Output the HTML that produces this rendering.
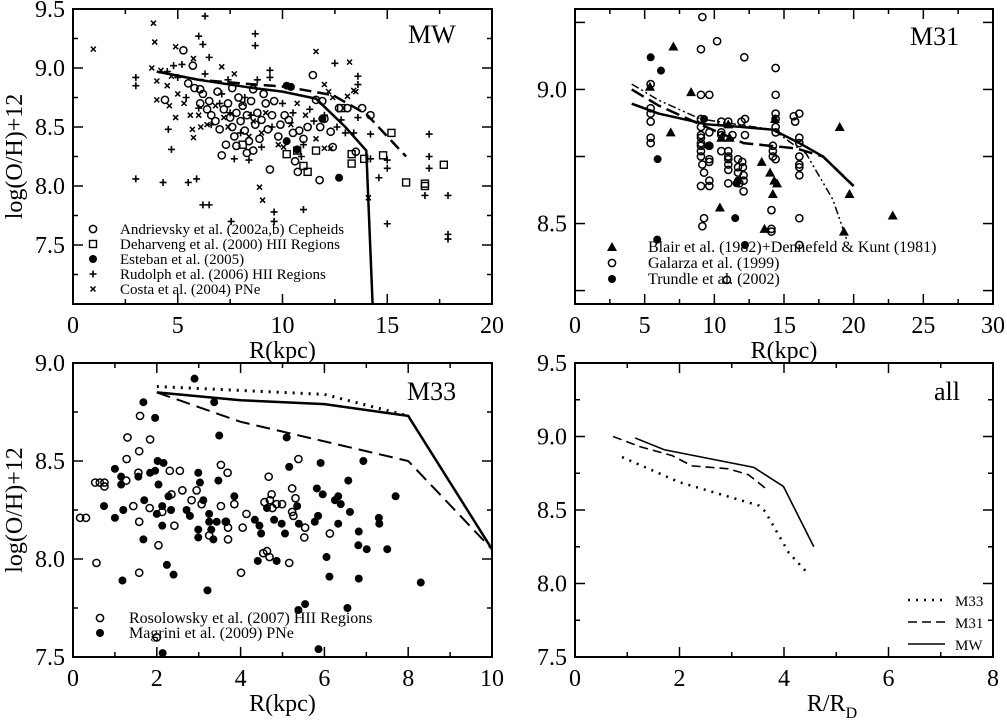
<!DOCTYPE html>
<html><head><meta charset="utf-8"><style>
html,body{margin:0;padding:0;background:#fff;}
svg{display:block;font-family:"Liberation Serif",serif;}
svg text{font-family:"Liberation Serif",serif;}
</style></head><body>
<svg id="fig" width="1007" height="722" viewBox="0 0 1007 722" font-family="Liberation Serif, serif"></svg>
<script>
// ---- MW data ----
const mwCircX=[5.27,5.72,11.45,4.39,6.07,6.07,7.1,9.4,10.73,10.6,11.77,11.8,12.4,12.3,13.1,12.7,14.2,13.8,13.5,12.0,11.6,11.9,6.2,6.5,6.6,6.8,7.0,7.2,7.4,7.5,7.6,7.7,7.8,7.9,8.0,8.1,8.2,8.3,8.4,8.5,8.6,8.7,8.8,8.9,9.0,9.2,9.3,9.5,9.6,9.8,9.9,10.1,10.3,10.5,10.8,11.0,11.2,7.3,7.8,8.3,6.4,5.8,5.5,6.9,7.6,8.6,9.1];
const mwCircY=[9.15,9.02,8.94,8.73,8.82,8.70,8.26,8.14,8.12,8.21,8.05,8.5,8.33,8.46,8.66,8.66,8.6,8.66,8.29,8.57,8.73,8.72,8.78,8.72,8.6,8.55,8.48,8.65,8.7,8.58,8.5,8.42,8.62,8.75,8.55,8.68,8.47,8.6,8.38,8.72,8.3,8.52,8.62,8.4,8.56,8.7,8.48,8.6,8.72,8.42,8.52,8.6,8.56,8.45,8.47,8.4,8.5,8.35,8.34,8.28,8.65,8.83,8.87,8.8,8.83,8.82,8.78];
const mwSqX=[12.8,15.2,13.3,13.3,13.9,14.8,15.9,16.8,16.8,17.7,11.0,11.2,10.2,11.6,8.1,10.7];
const mwSqY=[8.66,8.45,8.27,8.19,8.23,8.26,8.03,8.02,8.0,8.18,8.17,8.12,8.27,8.3,8.35,8.3];
const mwDotX=[10.2,10.2,10.7,12.7,11.9,10.4];
const mwDotY=[8.85,8.38,8.31,8.07,8.57,8.84];
const mwPlusX=[6.3,6.0,8.7,8.7,6.2,6.5,3.0,3.0,12.5,13.6,13.6,13.6,14.2,14.2,15.0,15.0,14.6,17.0,17.0,17.0,16.8,17.9,17.9,17.9,15.0,3.0,4.3,5.5,5.9,6.2,6.5,7.55,9.6,9.6,11.0,4.55,4.7,9.4,7.7,8.4,5.0,5.4,6.0,6.6,7.1,7.5,8.0,8.5,9.0,9.5,10.0,10.5,11.0,11.5,12.0,12.6,13.0,13.4,4.5,4.8,5.2,7.4,8.8,9.4,10.9,11.3,12.8,6.3,7.0,8.2];
const mwPlusY=[9.44,9.27,9.29,9.19,9.2,9.09,8.92,8.85,9.04,8.93,8.86,8.58,8.44,8.23,8.22,8.15,8.07,8.44,8.25,8.15,7.92,7.92,7.59,7.55,7.68,8.06,8.03,8.03,8.06,7.84,7.84,7.7,7.78,7.7,7.8,8.48,8.31,8.98,8.23,8.22,8.92,8.75,8.66,8.52,8.78,8.62,8.45,8.6,8.33,8.5,8.7,8.62,8.35,8.55,8.6,8.5,8.45,8.45,8.97,9.02,9.03,8.9,8.9,8.92,8.25,8.65,8.56,8.95,8.7,8.75];
const mwCrossX=[0.97,3.84,3.9,4.9,5.75,7.1,11.6,13.2,3.76,4.0,4.0,4.9,5.75,6.1,8.9,9.05,12.0,13.4,12.3,12.0,10.05,14.1,4.2,4.5,4.7,5.0,5.3,5.6,6.0,6.4,6.8,7.2,7.7,8.1,8.6,9.2,9.8,10.4,10.7,11.1,11.6,12.2,12.4,13.1,13.5,4.6,5.7,9.0,8.4,7.4];
const mwCrossY=[9.16,9.38,9.22,9.18,9.08,9.01,9.14,9.05,9.0,8.89,8.73,8.58,8.41,8.5,7.99,7.88,8.86,8.81,8.32,8.32,8.33,7.9,8.98,8.85,8.93,8.78,8.7,8.6,8.6,8.52,8.68,8.58,8.95,8.7,8.55,8.62,8.35,8.52,8.7,8.6,8.4,8.8,8.75,8.76,8.8,8.68,8.48,8.45,8.42,8.5];
const mwSolidX=[4.0,6.0,8.6,10.0,11.6,13.0,14.0,14.3];
const mwSolidY=[8.97,8.9,8.83,8.8,8.74,8.5,8.3,7.0];
const mwDashX=[4.0,6.0,8.0,10.2,12.4,14.0,15.9];
const mwDashY=[8.97,8.9,8.87,8.84,8.77,8.61,8.25];
// ---- M31 data ----
const m31TriX=[5.38,7.06,8.33,6.87,11.0,10.5,11.1,10.4,13.4,14.0,14.3,14.5,14.2,13.6,14.35,19.0,19.7,19.3,22.8];
const m31TriY=[9.01,9.16,8.99,8.84,8.87,8.82,8.82,8.56,8.73,8.69,8.66,8.65,8.61,8.48,8.89,8.86,8.61,8.47,8.53];
const m31DotX=[5.43,6.17,5.93,5.9,9.26,9.57,11.5,11.7,11.6,12.2];
const m31DotY=[9.12,9.07,8.74,8.44,8.89,8.79,8.52,8.66,8.65,8.42];
const m31CircX=[9.14,10.2,9.04,12.15,14.4,14.4,9.04,9.64,5.43,5.43,5.43,5.43,5.43,5.43,14.4,14.4,14.4,14.4,14.2,14.2,14.2,14.4,14.1,14.1,14.1,15.7,16.1,15.8,16.1,16.1,16.1,16.1,16.1,16.1,16.1,16.1,9.04,9.04,9.04,9.04,9.04,9.04,9.04,9.04,9.14,9.26,9.04,9.26,9.14,9.64,9.64,9.64,9.64,9.64,9.64,10.5,10.5,10.5,10.5,11.0,11.0,11.0,11.0,11.0,11.0,11.0,11.7,11.7,11.7,11.8,12.0,12.05,12.1,12.1,12.1,12.2,12.2,11.95,11.3,10.9];
const m31CircY=[9.27,9.18,9.15,9.12,9.08,8.98,8.98,8.98,9.02,8.93,8.91,8.88,8.82,8.8,8.91,8.89,8.86,8.84,8.79,8.77,8.75,8.74,8.55,8.48,8.47,8.9,8.91,8.88,8.82,8.8,8.75,8.72,8.71,8.68,8.52,8.42,8.89,8.86,8.83,8.82,8.8,8.79,8.77,8.75,8.72,8.69,8.64,8.52,8.49,8.84,8.79,8.74,8.73,8.66,8.64,8.88,8.84,8.83,8.77,8.88,8.77,8.75,8.74,8.72,8.7,8.65,8.74,8.71,8.69,8.65,8.73,8.71,8.68,8.66,8.62,8.83,8.89,8.88,8.83,8.29];
const m31SolidX=[4.07,6.0,9.45,12.0,14.2,16.1,17.8,19.98];
const m31SolidY=[8.947,8.91,8.87,8.86,8.85,8.8,8.75,8.64];
const m31DashX=[4.07,6.0,8.97,12.1,15.9,17.8,20.0];
const m31DashY=[9.0,8.94,8.87,8.8,8.78,8.75,8.64];
const m31DDX=[4.07,6.0,9.0,14.2,16.6,18.5,19.5];
const m31DDY=[9.02,8.96,8.89,8.85,8.76,8.59,8.44];
// ---- M33 data ----
const m33DotX=[2.9,1.68,3.37,1.96,3.49,5.1,2.02,2.16,1.0,1.84,1.96,2.99,1.15,1.15,1.56,2.04,3.03,3.47,5.16,5.91,6.93,6.57,0.74,1.0,1.2,1.7,2.0,2.13,2.28,2.34,2.13,2.71,2.79,2.99,2.99,3.11,3.25,3.25,3.3,3.35,3.43,3.64,3.85,4.34,4.45,4.49,4.63,4.8,4.98,5.06,5.35,5.39,5.77,5.85,5.82,5.96,6.25,6.33,6.39,6.33,6.61,6.82,6.81,7.01,7.3,7.31,7.5,7.7,8.3,6.05,6.12,6.82,4.41,4.86,2.24,2.4,1.18,3.21,5.38,5.54,6.55,5.86,2.14,1.68];
const m33DotY=[8.92,8.8,8.8,8.72,8.63,8.62,8.5,8.49,8.46,8.44,8.45,8.44,8.42,8.38,8.42,8.38,8.39,8.4,8.47,8.49,8.5,8.4,8.27,8.21,8.25,8.3,8.23,8.27,8.32,8.25,8.17,8.25,8.22,8.15,8.11,8.3,8.23,8.19,8.15,8.1,8.19,8.19,8.32,8.2,8.17,8.13,8.26,8.2,8.18,8.13,8.27,8.18,8.19,8.22,8.36,8.33,8.3,8.32,8.28,8.18,8.24,8.14,8.07,8.05,8.21,8.18,8.05,8.32,7.88,8.01,7.91,7.9,7.99,7.99,7.97,7.92,7.89,7.84,7.74,7.77,7.75,7.54,7.52,8.1];
const m33CircX=[1.6,1.3,1.84,1.58,1.28,1.27,1.56,0.53,0.64,0.75,0.75,0.17,0.31,0.56,1.58,1.44,1.83,2.13,2.04,1.58,2.31,2.55,2.35,2.61,2.42,2.83,2.95,3.07,3.25,3.53,3.53,3.69,3.65,3.7,3.7,3.85,4.14,4.05,4.01,4.57,4.67,4.7,4.74,4.76,4.86,4.99,5.23,5.23,5.31,5.38,5.26,5.16,5.54,5.52,6.13,4.54,4.63,4.69,2.0];
const m33CircY=[8.73,8.62,8.61,8.55,8.51,8.4,8.44,8.39,8.39,8.39,8.37,8.21,8.21,7.98,8.19,8.27,8.26,8.24,8.07,7.93,8.45,8.45,8.33,8.35,8.17,8.3,8.35,8.28,8.12,8.48,8.27,8.44,8.19,8.16,8.1,8.28,8.23,8.16,7.93,8.29,8.42,8.3,8.33,8.26,8.28,8.28,8.36,8.24,8.31,8.51,8.22,7.98,8.16,8.11,8.13,8.03,8.04,8.01,7.6];
const m33SolidX=[2,4,6,8,10];
const m33SolidY=[8.85,8.81,8.79,8.73,8.05];
const m33DotLX=[2,4,6,8];
const m33DotLY=[8.88,8.86,8.84,8.73];
const m33DashX=[2,4,6,8,10];
const m33DashY=[8.85,8.7,8.6,8.5,8.05];
// ---- all ----
const allMWX=[1.15,1.71,3.42,3.99,4.57];
const allMWY=[8.99,8.91,8.79,8.66,8.25];
const allM31X=[0.73,1.25,1.86,2.24,2.94,3.32,3.71];
const allM31Y=[9.0,8.93,8.87,8.8,8.78,8.74,8.63];
const allM33X=[0.9,1.99,3.52,3.64,4.09,4.48];
const allM33Y=[8.86,8.69,8.53,8.49,8.21,8.06];

const NS='http://www.w3.org/2000/svg';
const FONT='Liberation Serif, serif';
const svg=document.getElementById('fig');
function mk(tag,attrs,parent){const e=document.createElementNS(NS,tag);for(const k in attrs)e.setAttribute(k,attrs[k]);(parent||svg).appendChild(e);return e;}
function txt(s,x,y,size,anchor,parent,name){const t=mk('text',{x:x,y:y,'font-size':size,'font-family':FONT,'text-anchor':anchor||'start',fill:'#000'},parent);t.textContent=s;


return t;}

function panel(o){
  const g=mk('g',{});
  
  
  const sx=v=>o.L+(v-o.x0)/(o.x1-o.x0)*(o.R-o.L);
  const sy=v=>o.B-(v-o.y0)/(o.y1-o.y0)*(o.B-o.T);
  const box=mk('rect',{x:o.L,y:o.T,width:o.R-o.L,height:o.B-o.T,fill:'none',stroke:'#000','stroke-width':2},g);
  
  
  const ax=mk('g',{stroke:'#000','stroke-width':1.5},g);
  
  
  const nx=Math.round((o.x1-o.x0)/o.xm);
  for(let i=0;i<=nx;i++){const v=o.x0+i*o.xm;const x=sx(v);const maj=Math.abs(((v-o.x0)/o.xM)-Math.round((v-o.x0)/o.xM))<1e-6;const l=maj?10:5;
    mk('line',{x1:x,y1:o.B,x2:x,y2:o.B-l},ax);mk('line',{x1:x,y1:o.T,x2:x,y2:o.T+l},ax);
    if(maj)txt(String(Math.round(v*10)/10),x,o.B+29,24,'middle',g,'x-tick-label');}
  const ys=o.yStart!==undefined?o.yStart:o.y0;
  const ny=Math.floor((o.y1-ys)/o.ym+1e-6);
  for(let i=0;i<=ny;i++){const v=ys+i*o.ym;const y=sy(v);const maj=o.yMaj(v);const l=maj?10:5;
    mk('line',{x1:o.L,y1:y,x2:o.L+l,y2:y},ax);mk('line',{x1:o.R,y1:y,x2:o.R-l,y2:y},ax);
    if(o.yLab(v))txt(v.toFixed(1),o.L-8,y+8,24,'end',g,'y-tick-label');}
  if(o.xt)txt(o.xt,(o.L+o.R)/2,o.B+54,24,'middle',g,'x-axis-title');
  if(o.yt){const t=txt(o.yt,0,0,24,'middle',g,'y-axis-title');t.setAttribute('transform','translate(22,'+((o.T+o.B)/2)+') rotate(-90)');}
  txt(o.label,o.lx,o.ly,26,'start',g,'panel-label');
  return {g,sx,sy};
}
function clip(p,o){const id='c'+o.name;const cp=mk('clipPath',{id:id},p.g);mk('rect',{x:o.L,y:o.T,width:o.R-o.L,height:o.B-o.T},cp);const g=mk('g',{'clip-path':'url(#'+id+')'},p.g);return g;}
function marks(p,g,X,Y,kind,name){
  for(let i=0;i<X.length;i++){const x=p.sx(X[i]),y=p.sy(Y[i]);let e;
    if(kind==='circ')e=mk('circle',{cx:x,cy:y,r:3.6,fill:'none',stroke:'#000','stroke-width':1.5},g);
    else if(kind==='dot')e=mk('circle',{cx:x,cy:y,r:4,fill:'#000'},g);
    else if(kind==='sq')e=mk('rect',{x:x-3.5,y:y-3.5,width:7,height:7,fill:'none',stroke:'#000','stroke-width':1.4},g);
    else if(kind==='tri')e=mk('path',{d:`M${x},${y-5}L${x+5},${y+4}L${x-5},${y+4}Z`,fill:'#000'},g);
    else if(kind==='plus')e=mk('path',{d:`M${x-3.5},${y}H${x+3.5}M${x},${y-3.5}V${y+3.5}`,stroke:'#000','stroke-width':1.6},g);
    else if(kind==='cross')e=mk('path',{d:`M${x-2.5},${y-2.5}L${x+2.5},${y+2.5}M${x-2.5},${y+2.5}L${x+2.5},${y-2.5}`,stroke:'#000','stroke-width':1.5},g);
    
    
  }
}
function line(p,g,X,Y,dash,w,name){const d=X.map((v,i)=>(i?'L':'M')+p.sx(v)+','+p.sy(Y[i])).join('');
  const e=mk('path',{d:d,fill:'none',stroke:'#000','stroke-width':w||2.5,'stroke-dasharray':dash||'none'},g);
  
  }
function legMark(g,kind,x,y,name){const p={sx:v=>v,sy:v=>v};marks(p,g,[x],[y],kind,name);}
const half=v=>Math.abs(v*2-Math.round(v*2))<1e-6;

// Panel MW
const o1={name:'panel-mw',L:73,R:492,T:9,B:304,x0:0,x1:20,xm:2.5,xM:5,y0:7.0,y1:9.5,ym:0.25,yMaj:half,yLab:v=>v>7.2&&half(v),xt:'R(kpc)',yt:'log(O/H)+12',label:'MW',lx:408,ly:43};
const p1=panel(o1);const g1=clip(p1,o1);
marks(p1,g1,mwCrossX,mwCrossY,'cross','costa-pne-point');
marks(p1,g1,mwPlusX,mwPlusY,'plus','rudolph-hii-point');
marks(p1,g1,mwCircX,mwCircY,'circ','andrievsky-cepheid-point');
marks(p1,g1,mwSqX,mwSqY,'sq','deharveng-hii-point');
marks(p1,g1,mwDotX,mwDotY,'dot','esteban-point');
line(p1,g1,mwSolidX,mwSolidY,null,2.5,'mw-model-solid');
line(p1,g1,mwDashX,mwDashY,'12,6',2.5,'mw-model-dashed');
const leg1=[['circ','Andrievsky et al. (2002a,b) Cepheids'],['sq','Deharveng et al. (2000) HII Regions'],['dot','Esteban et al. (2005)'],['plus','Rudolph et al. (2006) HII Regions'],['cross','Costa et al. (2004) PNe']];
leg1.forEach((l,i)=>{const y=229+i*15;legMark(p1.g,l[0],93,y,'legend-marker');txt(l[1],120,y+5,15,'start',p1.g,'legend-entry');});

// Panel M31
const o2={name:'panel-m31',L:575,R:993,T:9,B:304,x0:0,x1:30,xm:2.5,xM:5,y0:8.2,y1:9.3,yStart:8.25,ym:0.25,yMaj:v=>true,yLab:v=>Math.abs(v-9.0)<1e-6||Math.abs(v-8.5)<1e-6,xt:'R(kpc)',yt:null,label:'M31',lx:910,ly:45};
const p2=panel(o2);
const g2=clip(p2,o2);
marks(p2,g2,m31CircX,m31CircY,'circ','galarza-point');
marks(p2,g2,m31TriX,m31TriY,'tri','blair-dennefeld-point');
marks(p2,g2,m31DotX,m31DotY,'dot','trundle-point');
line(p2,g2,m31SolidX,m31SolidY,null,2.5,'m31-model-solid');
line(p2,g2,m31DashX,m31DashY,'14,6',2.5,'m31-model-dashed');
line(p2,g2,m31DDX,m31DDY,'8,3,2,3,2,3',1.5,'m31-model-dashdot');
const leg2=[['tri','Blair et al. (1982)+Dennefeld & Kunt (1981)'],['circ','Galarza et al. (1999)'],['dot','Trundle et al. (2002)']];
leg2.forEach((l,i)=>{const y=247+i*16;legMark(p2.g,l[0],612,y,'legend-marker');txt(l[1],648,y+5,16,'start',p2.g,'legend-entry');});

// Panel M33
const o3={name:'panel-m33',L:73,R:492,T:363,B:657,x0:0,x1:10,xm:1,xM:2,y0:7.5,y1:9.0,ym:0.25,yMaj:half,yLab:half,xt:'R(kpc)',yt:'log(O/H)+12',label:'M33',lx:407,ly:400};
const p3=panel(o3);const g3=clip(p3,o3);
marks(p3,g3,m33CircX,m33CircY,'circ','rosolowsky-hii-point');
marks(p3,g3,m33DotX,m33DotY,'dot','magrini-pne-point');
line(p3,g3,m33SolidX,m33SolidY,null,2.5,'m33-model-solid');
line(p3,g3,m33DotLX,m33DotLY,'2,6',3,'m33-model-dotted');
line(p3,g3,m33DashX,m33DashY,'14,7',2,'m33-model-dashed');
const leg3=[['circ','Rosolowsky et al. (2007) HII Regions'],['dot','Magrini et al. (2009) PNe']];
leg3.forEach((l,i)=>{const y=618+i*15;legMark(p3.g,l[0],100,y,'legend-marker');txt(l[1],129,y+5,16,'start',p3.g,'legend-entry');});

// Panel all
const o4={name:'panel-all',L:575,R:993,T:363,B:657,x0:0,x1:8,xm:1,xM:2,y0:7.5,y1:9.5,ym:0.25,yMaj:half,yLab:half,xt:null,yt:null,label:'all',lx:934,ly:400};
const p4=panel(o4);const g4=clip(p4,o4);
line(p4,g4,allMWX,allMWY,null,1.6,'all-mw-line');
line(p4,g4,allM31X,allM31Y,'9,5',1.6,'all-m31-line');
line(p4,g4,allM33X,allM33Y,'2,6',2.5,'all-m33-line');
const xt4=mk('text',{x:832,y:711,'font-size':24,'font-family':FONT,'text-anchor':'middle'},p4.g);


xt4.innerHTML='R/R<tspan font-size="16" dy="7">D</tspan>';
const leg4=[['2,6',2.5,'M33'],['9,5',1.6,'M31'],[null,1.6,'MW']];
leg4.forEach((l,i)=>{const y=600+i*22;const e=mk('line',{x1:908,y1:y,x2:945,y2:y,stroke:'#000','stroke-width':l[1],'stroke-dasharray':l[0]||'none'},p4.g);


txt(l[2],955,y+6,15,'start',p4.g,'legend-entry');});
</script>
</body></html>
